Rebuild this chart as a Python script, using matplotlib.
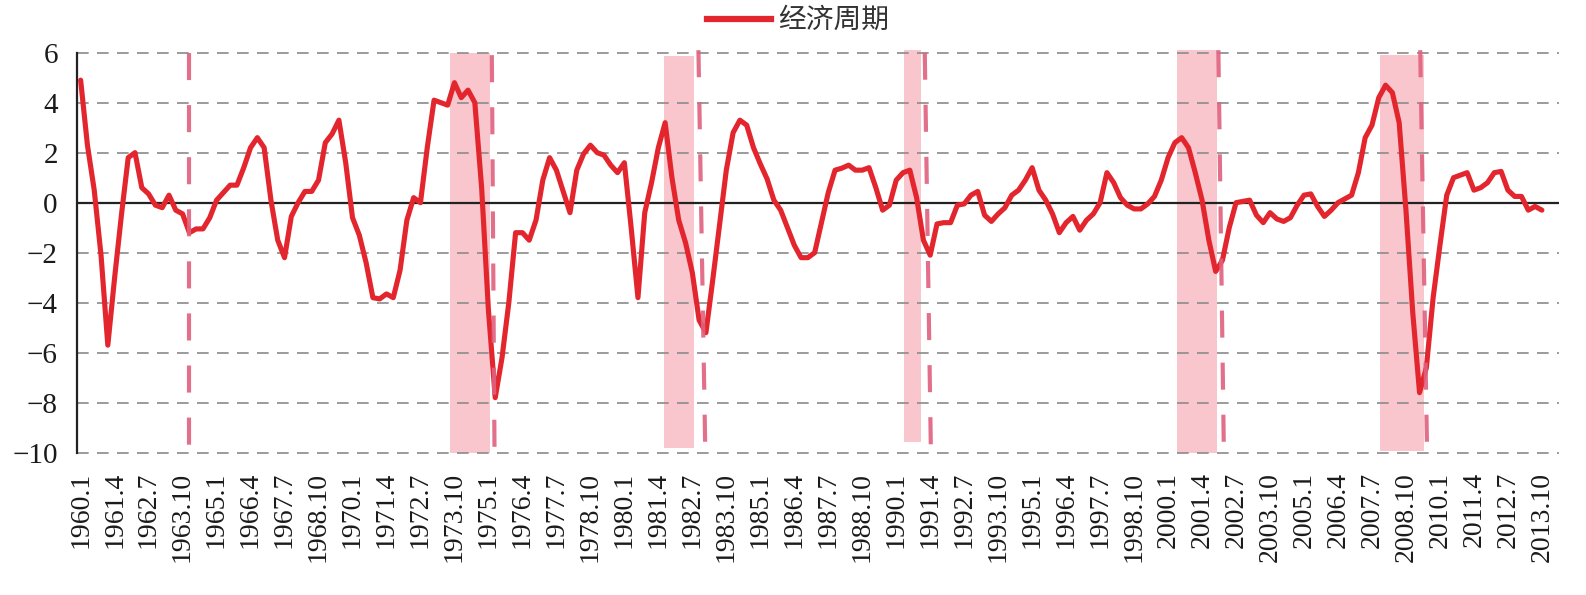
import numpy as np
from matplotlib import pyplot as plt
from matplotlib.lines import Line2D

# quarterly business-cycle index, 1960Q1 .. 2013Q4
cycle = [
    4.9, 2.3, 0.5, -2.1, -5.7, -3.0, -0.5, 1.8, 2.0, 0.6,
    0.35, -0.1, -0.2, 0.3, -0.3, -0.45, -1.2, -1.05, -1.05, -0.6,
    0.1, 0.4, 0.7, 0.7, 1.4, 2.2, 2.6, 2.2, 0.1, -1.5,
    -2.2, -0.55, 0.0, 0.45, 0.45, 0.9, 2.4, 2.75, 3.3, 1.6,
    -0.6, -1.3, -2.4, -3.8, -3.85, -3.65, -3.8, -2.7, -0.7, 0.2,
    0.0, 2.2, 4.1, 4.0, 3.9, 4.8, 4.2, 4.5, 4.0, 0.6,
    -4.3, -7.8, -6.2, -4.0, -1.2, -1.2, -1.5, -0.7, 0.9, 1.8,
    1.3, 0.45, -0.4, 1.3, 1.95, 2.3, 2.0, 1.9, 1.5, 1.2,
    1.6, -1.0, -3.8, -0.4, 0.8, 2.2, 3.2, 1.0, -0.7, -1.6,
    -2.8, -4.7, -5.2, -3.1, -0.9, 1.3, 2.8, 3.3, 3.1, 2.2,
    1.55, 0.95, 0.1, -0.3, -1.0, -1.7, -2.2, -2.2, -2.0, -0.8,
    0.4, 1.3, 1.38, 1.5, 1.3, 1.3, 1.4, 0.6, -0.3, -0.1,
    0.9, 1.2, 1.3, 0.2, -1.5, -2.1, -0.85, -0.8, -0.8, -0.1,
    -0.05, 0.3, 0.45, -0.5, -0.75, -0.45, -0.2, 0.3, 0.5, 0.9,
    1.4, 0.5, 0.1, -0.45, -1.2, -0.8, -0.55, -1.1, -0.7, -0.45,
    0.0, 1.2, 0.8, 0.2, -0.1, -0.25, -0.25, -0.05, 0.25, 0.9,
    1.8, 2.4, 2.6, 2.2, 1.2, 0.1, -1.5, -2.75, -2.3, -1.0,
    0.0, 0.05, 0.1, -0.5, -0.8, -0.4, -0.65, -0.75, -0.6, -0.1,
    0.3, 0.35, -0.15, -0.55, -0.3, 0.0, 0.15, 0.3, 1.2, 2.6,
    3.1, 4.2, 4.7, 4.4, 3.2, -0.3, -4.4, -7.6, -6.6, -3.8,
    -1.7, 0.3, 1.0, 1.1, 1.2, 0.5, 0.6, 0.8, 1.2, 1.25,
    0.5, 0.25, 0.25, -0.3, -0.15, -0.3,
]
n_categories = 218

# recession shading: start, end (category index), top, bottom
band_start = [54.3, 85.8, 121.2, 161.3, 191.2]
band_end = [60.3, 90.3, 123.6, 167.2, 197.6]
band_top = [6.0, 5.87, 6.1, 6.1, 5.9]
band_bottom = [-10.0, -9.83, -9.56, -10.0, -9.92]

# trough markers (slightly slanted dashed lines): x at top, x at bottom
trough_x_top = [15.9, 60.5, 90.9, 124.2, 167.4, 197.1]
trough_x_bot = [15.9, 60.9, 91.9, 125.1, 168.2, 198.1]
trough_y_top = [6.0, 5.9, 6.1, 6.0, 6.1, 6.1]
trough_y_bot = [-10.0, -10.16, -9.83, -9.9, -9.83, -9.83]

months = [1, 4, 7, 10]
tick_pos = list(range(0, 216, 5))
tick_lbl = ['%d.%d' % (1960 + i // 4, months[i % 4]) for i in tick_pos]

fig = plt.figure(figsize=(15.86, 5.95), dpi=100)
ax = fig.add_axes([0.0487, 0.2392, 0.9342, 0.6723])

for x0, x1, t, b in zip(band_start, band_end, band_top, band_bottom):
    ax.fill_between([x0, x1], [b, b], [t, t], color='#F8C6CC', lw=0, zorder=0, clip_on=False)

for y in [6, 4, 2, -2, -4, -6, -8, -10]:
    ax.axhline(y, color='#8a8a8a', lw=1.2, linestyle=(0, (7, 5)), zorder=1, clip_on=False)
ax.axhline(0, color='#222222', lw=1.6, zorder=2)

x = np.arange(len(cycle))
ax.plot(x, cycle, color='#E3262E', lw=3.7, solid_joinstyle='round',
        solid_capstyle='round', zorder=3)

for xt, xb, yt, yb in zip(trough_x_top, trough_x_bot, trough_y_top, trough_y_bot):
    ax.plot([xt, xb], [yt, yb], color='#E0617E', lw=3.0, alpha=0.9,
            linestyle=(0, (6.5, 6)), solid_capstyle='butt', zorder=4, clip_on=False)

ax.set_xlim(-0.5, n_categories - 0.5)
ax.set_ylim(-10, 6)
ax.set_yticks(range(-10, 7, 2))
ax.set_xticks(tick_pos)
ax.set_xticklabels(tick_lbl, rotation=90, fontsize=20, family='Liberation Serif')
ax.set_yticklabels([('\u2212%d' % -v) if v < 0 else str(v) for v in range(-10, 7, 2)],
                   fontsize=21, family='Liberation Serif')
ax.tick_params(axis='x', length=0, pad=14, colors='#1a1a1a')
ax.tick_params(axis='y', length=0, pad=14, colors='#1a1a1a')

for s in ['top', 'right', 'bottom']:
    ax.spines[s].set_visible(False)
ax.spines['left'].set_linewidth(1.6)
ax.spines['left'].set_color('#222222')

handle = Line2D([], [], color='#E3262E', lw=4.5)
fig.legend([handle], ['经济周期'], loc='center', bbox_to_anchor=(0.503, 0.966),
           frameon=False, handlelength=2.3, handletextpad=0.25,
           prop={'family': ['Noto Sans CJK SC', 'DejaVu Sans'], 'size': 20},
           labelcolor='#333333')

fig.savefig('out.png', dpi=100)
